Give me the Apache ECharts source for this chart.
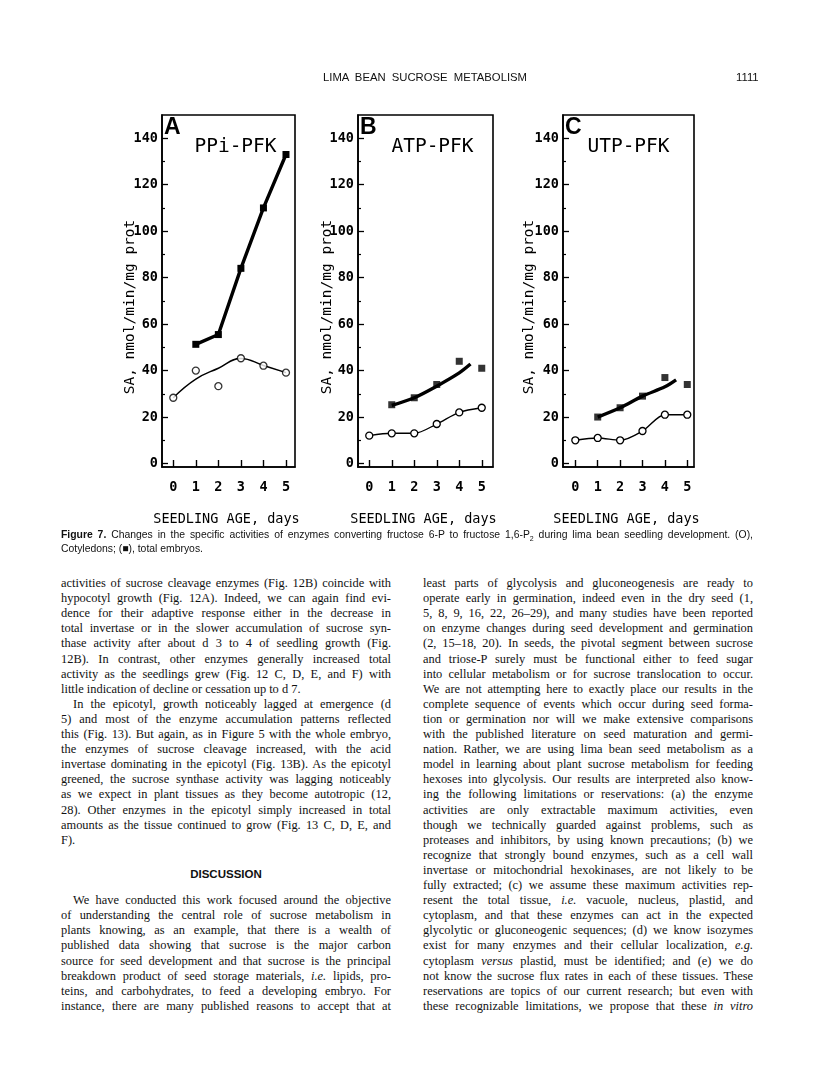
<!DOCTYPE html>
<html>
<head>
<meta charset="utf-8">
<script src="https://cdn.jsdelivr.net/npm/echarts@6/dist/echarts.min.js"></script>
<style>
  html, body { margin: 0; padding: 0; background: #fff; }
  #page { position: relative; width: 816px; height: 1073px; overflow: hidden; color: #111; }
  #charts { position: absolute; left: 0; top: 0; width: 816px; height: 540px; }
  .hdr { position: absolute; top: 71px; font-family: "Liberation Sans", Arial, sans-serif; font-size: 11.3px; }
  .cap { position: absolute; left: 61px; width: 692px; font-family: "Liberation Sans", Arial, sans-serif; font-size: 10.4px; white-space: nowrap; line-height: 13px; }
  .ln { position: absolute; width: 330px; font-family: "Liberation Serif", "Times New Roman", serif; font-size: 12.4px; line-height: 15px; white-space: nowrap; text-align: justify; text-align-last: justify; }
  .ln.last { text-align-last: left; }
  .ln.ind { text-indent: 12px; }
  .l { left: 61px; }
  .r { left: 423px; }
  .head { position: absolute; left: 61px; width: 330px; text-align: center; font-family: "Liberation Sans", Arial, sans-serif; font-weight: bold; font-size: 11.5px; }
</style>
</head>
<body>
<div id="page">
  <div id="charts"></div>
  <div class="hdr" style="left:310px;width:230px;text-align:center;word-spacing:3px;">LIMA BEAN SUCROSE METABOLISM</div>
  <div class="hdr" style="left:736px;">1111</div>

  <div class="cap" style="top:528px;text-align:justify;text-align-last:justify;"><b>Figure 7.</b> Changes in the specific activities of enzymes converting fructose 6-P to fructose 1,6-P<sub style="font-size:7px;">2</sub> during lima bean seedling development. (O),</div>
  <div class="cap" style="top:542px;">Cotyledons; (&#9632;), total embryos.</div>

  <div id="text"></div>
</div>

<script>
  // x values (seedling age, days)
  const days = [0, 1, 2, 3, 4, 5];
  const fitDays = [1, 2, 3, 4, 4.5];
  const yTicks = [0, 20, 40, 60, 80, 100, 120, 140];
  const yMinorTicks = [10, 30, 50, 70, 90, 110, 130];

  // A: PPi-PFK
  const ppiCotyledon = [28.3, 40, 33.3, 45.3, 42.1, 39.1];
  const ppiCotyledonFit = [28.3, 36.3, 41, 45.2, 42.2, 39.1];
  const ppiEmbryo = [null, 51.3, 55.5, 84, 110, 133];

  // B: ATP-PFK
  const atpCotyledon = [12, 13, 13, 17, 22, 24];
  const atpEmbryo = [null, 25.3, 28.3, 34, 44, 41];
  const atpEmbryoFit = [25, 28.3, 33.3, 39, 42.8];

  // C: UTP-PFK
  const utpCotyledon = [10, 11, 10, 14, 21, 21];
  const utpEmbryo = [null, 20, 24, 29, 37, 34];
  const utpEmbryoFit = [20, 24, 29, 33, 36];

  function pairs(xs, ys) {
    return xs.map((x, i) => [x, ys[i]]).filter(p => p[1] != null);
  }

  // panel frames (pixels) and x extents
  const panels = [
    { left: 162, width: 133, xmin: -0.5, xmax: 5.4, letter: 'A', title: 'PPi-PFK', nameX: 130 },
    { left: 358, width: 135, xmin: -0.5, xmax: 5.5, letter: 'B', title: 'ATP-PFK', nameX: 327 },
    { left: 563, width: 131, xmin: -0.55, xmax: 5.3, letter: 'C', title: 'UTP-PFK', nameX: 529 }
  ];
  const gridTop = 115, gridHeight = 352;

  const mono = '"DejaVu Sans Mono", "Liberation Mono", monospace';

  const grid = [], xAxis = [], yAxis = [], graphic = [];
  panels.forEach((p, i) => {
    grid.push({ left: p.left, top: gridTop, width: p.width, height: gridHeight, show: true, borderColor: '#000', borderWidth: 1.6, backgroundColor: 'transparent' });
    xAxis.push({
      gridIndex: i, type: 'value', min: p.xmin, max: p.xmax,
      splitLine: { show: false },
      axisLine: { onZero: false, lineStyle: { color: '#000', width: 1.6 } },
      axisTick: { inside: true, length: 7, customValues: days, lineStyle: { color: '#000', width: 1.4 } },
      axisLabel: { customValues: days, margin: 13, color: '#000', fontFamily: mono, fontWeight: 'bold', fontSize: 13.5 }
    });
    yAxis.push({
      gridIndex: i, type: 'value', position: 'left', min: -1.5, max: 150,
      splitLine: { show: false },
      axisLine: { onZero: false, lineStyle: { color: '#000', width: 1.6 } },
      axisTick: { inside: true, length: 6, customValues: yTicks, lineStyle: { color: '#000', width: 1.3 } },
      axisLabel: { customValues: yTicks, margin: 4, color: '#000', fontFamily: mono, fontWeight: 'bold', fontSize: 13.5 }
    });
    // minor ticks every 10
    yAxis.push({
      gridIndex: i, type: 'value', position: 'left', offset: 0, min: -1.5, max: 150,
      splitLine: { show: false },
      axisLine: { show: false, onZero: false },
      axisTick: { inside: true, length: 3, customValues: yMinorTicks, lineStyle: { color: '#000', width: 1.2 } },
      axisLabel: { show: false }
    });
    graphic.push({
      type: 'text', x: p.left + 2, y: gridTop + 1,
      style: { text: p.letter, font: 'bold 23px "Liberation Sans", Arial, sans-serif', fill: '#000' }
    });
    graphic.push({
      type: 'text', x: p.left + p.width / 2 + (i === 2 ? 0 : 7), y: 147,
      style: { text: p.title, font: '19.5px ' + mono, fill: '#000', align: 'center', verticalAlign: 'middle' }
    });
    graphic.push({
      type: 'text', x: p.nameX, y: 307, rotation: Math.PI / 2,
      style: { text: 'SA, nmol/min/mg prot', font: '14.5px ' + mono, fill: '#000', align: 'center', verticalAlign: 'middle' }
    });
    graphic.push({
      type: 'text', x: p.left + p.width / 2 - 2, y: 519,
      style: { text: 'SEEDLING AGE, days', font: '13.5px ' + mono, fill: '#000', align: 'center', verticalAlign: 'middle' }
    });
  });

  const open = { color: '#fff', borderColor: '#000', borderWidth: 1.3 };
  const solid = { color: '#000' };

  const series = [
    // A
    { type: 'line', xAxisIndex: 0, yAxisIndex: 0, data: pairs(days, ppiEmbryo), symbol: 'rect', symbolSize: 7, itemStyle: solid, lineStyle: { color: '#000', width: 3.4 } },
    { type: 'line', xAxisIndex: 0, yAxisIndex: 0, data: pairs(days, ppiCotyledonFit), smooth: 0.45, showSymbol: false, lineStyle: { color: '#000', width: 1.4 } },
    { type: 'scatter', xAxisIndex: 0, yAxisIndex: 0, data: pairs(days, ppiCotyledon), symbol: 'circle', symbolSize: 7, itemStyle: open, z: 5 },
    // B
    { type: 'line', xAxisIndex: 1, yAxisIndex: 2, data: pairs(fitDays, atpEmbryoFit), smooth: 0.3, showSymbol: false, lineStyle: { color: '#000', width: 3.4 } },
    { type: 'scatter', xAxisIndex: 1, yAxisIndex: 2, data: pairs(days, atpEmbryo), symbol: 'rect', symbolSize: 7, itemStyle: solid, z: 5 },
    { type: 'line', xAxisIndex: 1, yAxisIndex: 2, data: pairs(days, atpCotyledon), smooth: 0.3, symbol: 'circle', symbolSize: 7, itemStyle: open, lineStyle: { color: '#000', width: 1.4 } },
    // C
    { type: 'line', xAxisIndex: 2, yAxisIndex: 4, data: pairs(fitDays, utpEmbryoFit), smooth: 0.3, showSymbol: false, lineStyle: { color: '#000', width: 3.4 } },
    { type: 'scatter', xAxisIndex: 2, yAxisIndex: 4, data: pairs(days, utpEmbryo), symbol: 'rect', symbolSize: 7, itemStyle: solid, z: 5 },
    { type: 'line', xAxisIndex: 2, yAxisIndex: 4, data: pairs(days, utpCotyledon), smooth: 0.3, symbol: 'circle', symbolSize: 7, itemStyle: open, lineStyle: { color: '#000', width: 1.4 } }
  ];

  const chart = echarts.init(document.getElementById('charts'), null, { renderer: 'canvas' });
  chart.setOption({
    animation: false,
    grid: grid,
    xAxis: xAxis,
    yAxis: yAxis,
    series: series,
    graphic: graphic
  });

  // body text, one entry per printed line
  const leftLines = [
    'activities of sucrose cleavage enzymes (Fig. 12B) coincide with',
    'hypocotyl growth (Fig. 12A). Indeed, we can again find evi-',
    'dence for their adaptive response either in the decrease in',
    'total invertase or in the slower accumulation of sucrose syn-',
    'thase activity after about d 3 to 4 of seedling growth (Fig.',
    '12B). In contrast, other enzymes generally increased total',
    'activity as the seedlings grew (Fig. 12 C, D, E, and F) with',
    '|little indication of decline or cessation up to d 7.',
    '>In the epicotyl, growth noticeably lagged at emergence (d',
    '5) and most of the enzyme accumulation patterns reflected',
    'this (Fig. 13). But again, as in Figure 5 with the whole embryo,',
    'the enzymes of sucrose cleavage increased, with the acid',
    'invertase dominating in the epicotyl (Fig. 13B). As the epicotyl',
    'greened, the sucrose synthase activity was lagging noticeably',
    'as we expect in plant tissues as they become autotropic (12,',
    '28). Other enzymes in the epicotyl simply increased in total',
    'amounts as the tissue continued to grow (Fig. 13 C, D, E, and',
    '|F).',
    '', '', '',
    '>We have conducted this work focused around the objective',
    'of understanding the central role of sucrose metabolism in',
    'plants knowing, as an example, that there is a wealth of',
    'published data showing that sucrose is the major carbon',
    'source for seed development and that sucrose is the principal',
    'breakdown product of seed storage materials, <i>i.e.</i> lipids, pro-',
    'teins, and carbohydrates, to feed a developing embryo. For',
    'instance, there are many published reasons to accept that at'
  ];
  const rightLines = [
    'least parts of glycolysis and gluconeogenesis are ready to',
    'operate early in germination, indeed even in the dry seed (1,',
    '5, 8, 9, 16, 22, 26\u201329), and many studies have been reported',
    'on enzyme changes during seed development and germination',
    '(2, 15\u201318, 20). In seeds, the pivotal segment between sucrose',
    'and triose-P surely must be functional either to feed sugar',
    'into cellular metabolism or for sucrose translocation to occur.',
    'We are not attempting here to exactly place our results in the',
    'complete sequence of events which occur during seed forma-',
    'tion or germination nor will we make extensive comparisons',
    'with the published literature on seed maturation and germi-',
    'nation. Rather, we are using lima bean seed metabolism as a',
    'model in learning about plant sucrose metabolism for feeding',
    'hexoses into glycolysis. Our results are interpreted also know-',
    'ing the following limitations or reservations: (a) the enzyme',
    'activities are only extractable maximum activities, even',
    'though we technically guarded against problems, such as',
    'proteases and inhibitors, by using known precautions; (b) we',
    'recognize that strongly bound enzymes, such as a cell wall',
    'invertase or mitochondrial hexokinases, are not likely to be',
    'fully extracted; (c) we assume these maximum activities rep-',
    'resent the total tissue, <i>i.e.</i> vacuole, nucleus, plastid, and',
    'cytoplasm, and that these enzymes can act in the expected',
    'glycolytic or gluconeogenic sequences; (d) we know isozymes',
    'exist for many enzymes and their cellular localization, <i>e.g.</i>',
    'cytoplasm <i>versus</i> plastid, must be identified; and (e) we do',
    'not know the sucrose flux rates in each of these tissues. These',
    'reservations are topics of our current research; but even with',
    'these recognizable limitations, we propose that these <i>in vitro</i>'
  ];

  const lineTop = 576, lineStep = 15.1;
  let html = '';
  [[leftLines, 'l'], [rightLines, 'r']].forEach(([lines, col]) => {
    lines.forEach((t, i) => {
      if (!t) return;
      let cls = 'ln ' + col;
      if (t[0] === '|') { cls += ' last'; t = t.slice(1); }
      if (t[0] === '>') { cls += ' ind'; t = t.slice(1); }
      html += '<div class="' + cls + '" style="top:' + (lineTop + i * lineStep).toFixed(1) + 'px">' + t + '</div>';
    });
  });
  html += '<div class="head" style="top:868px">DISCUSSION</div>';
  document.getElementById('text').innerHTML = html;
</script>
</body>
</html>
